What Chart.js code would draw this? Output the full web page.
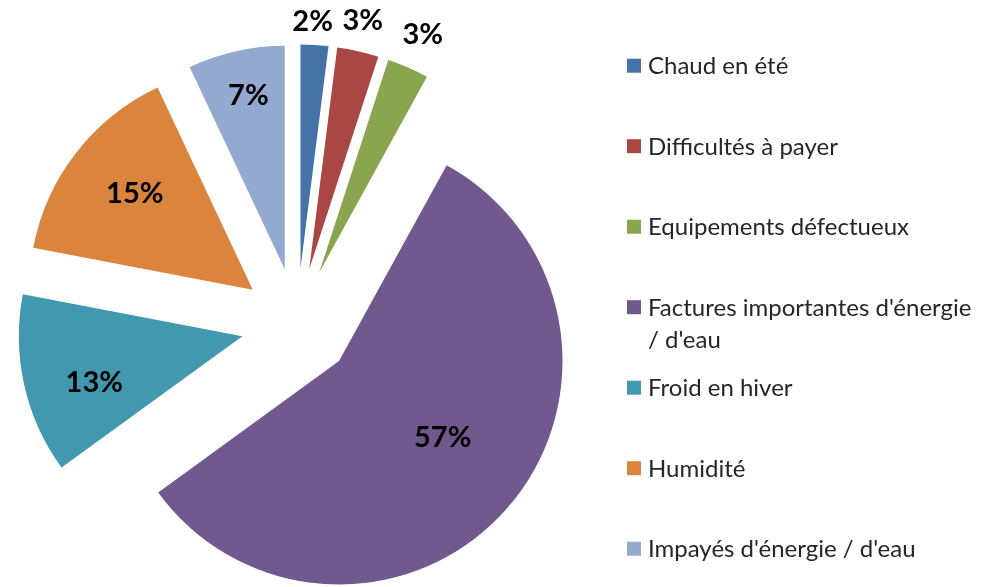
<!DOCTYPE html>
<html lang="fr">
<head>
<meta charset="utf-8">
<title>Problèmes rencontrés</title>
<script src="https://cdn.jsdelivr.net/npm/chart.js@4.4.1/dist/chart.umd.min.js"></script>
<style>
  html, body { margin: 0; padding: 0; background: #fff; }
  #wrap { width: 1004px; height: 587px; }
</style>
</head>
<body>
<div id="wrap"><canvas id="pieChart" width="1004" height="587"></canvas></div>
<script>
// data
const CATEGORIES = [
  "Chaud en été",
  "Difficultés à payer",
  "Equipements défectueux",
  "Factures importantes d'énergie / d'eau",
  "Froid en hiver",
  "Humidité",
  "Impayés d'énergie / d'eau",
];
const VALUES = [2, 3, 3, 57, 13, 15, 7];

const COLORS = ["#4572A7", "#AA4643", "#89A54E", "#71588F", "#4198AF", "#DB843D", "#93A9CF"];

// look
const RADIUS = 223.5;
const EXPLODE = 56;
const LABEL_FONT = "bold 29px Lato, 'Liberation Sans', sans-serif";
const LEGEND_FONT = "24px Lato, 'Liberation Sans', sans-serif";
const TEXT_COLOR = "#000";
const LEGEND_COLOR = "#262626";

// where each % label sits: distance from slice tip (x radius) and angle nudge (deg)
const LABEL_DIST = [1.108, 1.144, 1.166, 0.573, 0.693, 0.684, 0.797];
const LABEL_NUDGE = [-0.8, -0.5, 0, -5.5, -4.5, 1.7, 0.8];

const LEGEND = { x: 627, box: 14, textX: 648, firstY: 65.7, step: 80.5, lineH: 32.5, maxW: 340 };

function shiftArcs(chart, sign) {
  const meta = chart.getDatasetMeta(0);
  meta.data.forEach((arc) => {
    const mid = (arc.startAngle + arc.endAngle) / 2;
    arc.x += sign * Math.cos(mid) * EXPLODE;
    arc.y += sign * Math.sin(mid) * EXPLODE;
  });
}

// moves every slice out along its middle angle, like Excel's exploded pie
const explodePlugin = {
  id: "explode",
  beforeDatasetsDraw(chart) {
    shiftArcs(chart, 1);
  },
  afterDatasetsDraw(chart) {
    const ctx = chart.ctx;
    const meta = chart.getDatasetMeta(0);

    ctx.save();
    ctx.font = LABEL_FONT;
    ctx.fillStyle = TEXT_COLOR;
    ctx.textAlign = "center";
    ctx.textBaseline = "alphabetic";

    meta.data.forEach((arc, i) => {
      const mid = (arc.startAngle + arc.endAngle) / 2 + (LABEL_NUDGE[i] * Math.PI) / 180;
      const r = LABEL_DIST[i] * RADIUS;
      const x = arc.x + Math.cos(mid) * r;
      const y = arc.y + Math.sin(mid) * r;
      ctx.fillText(`${VALUES[i]}%`, x, y + 29 * 0.36);
    });

    ctx.restore();
    shiftArcs(chart, -1);
  },
};

// long labels break before the last " / ", as in the original legend
function splitLabel(ctx, text, maxW) {
  const cut = text.lastIndexOf(" / ");
  if (ctx.measureText(text).width <= maxW || cut < 0) return [text];
  return [text.slice(0, cut), text.slice(cut + 1)];
}

const legendPlugin = {
  id: "sideLegend",
  afterDraw(chart) {
    const ctx = chart.ctx;
    ctx.save();
    ctx.font = LEGEND_FONT;
    ctx.textAlign = "left";
    ctx.textBaseline = "alphabetic";

    CATEGORIES.forEach((label, i) => {
      const cy = LEGEND.firstY + i * LEGEND.step;
      ctx.fillStyle = COLORS[i];
      ctx.fillRect(LEGEND.x, cy - LEGEND.box / 2, LEGEND.box, LEGEND.box);

      ctx.fillStyle = LEGEND_COLOR;
      splitLabel(ctx, label, LEGEND.maxW).forEach((ln, k) => {
        ctx.fillText(ln, LEGEND.textX, cy + k * LEGEND.lineH + 24 * 0.36);
      });
    });

    ctx.restore();
  },
};

new Chart(document.getElementById("pieChart"), {
  type: "pie",
  data: {
    labels: CATEGORIES,
    datasets: [
      {
        data: VALUES,
        backgroundColor: COLORS,
        borderWidth: 0,
      },
    ],
  },
  options: {
    responsive: false,
    animation: false,
    radius: RADIUS,
    layout: {
      padding: { left: 0, right: 410, top: 61, bottom: 0 },
    },
    plugins: {
      legend: { display: false },
      tooltip: { enabled: false },
    },
    events: [],
  },
  plugins: [explodePlugin, legendPlugin],
});
</script>
</body>
</html>
